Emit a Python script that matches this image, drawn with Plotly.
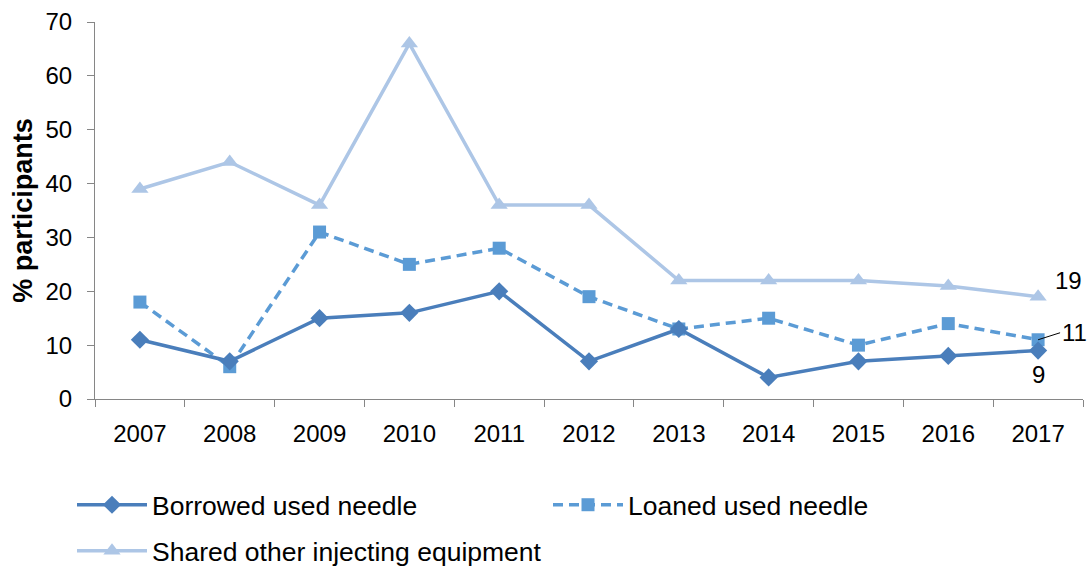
import plotly.graph_objects as go

years = ["2007", "2008", "2009", "2010", "2011", "2012", "2013", "2014", "2015", "2016", "2017"]
borrowed = [11, 7, 15, 16, 20, 7, 13, 4, 7, 8, 9]
loaned = [18, 6, 31, 25, 28, 19, 13, 15, 10, 14, 11]
shared = [39, 44, 36, 66, 36, 36, 22, 22, 22, 21, 19]

c_borrowed = "#4A7EBB"
c_loaned = "#5B9BD5"
c_shared = "#ADC6E6"
font_family = "Liberation Sans, Arial, sans-serif"

W, H = 1091, 568
ML, MR, MT, MB = 2, 8, 22, 2
pw, ph = W - ML - MR, H - MT - MB


def px_x(x):
    return (x - ML) / pw


def px_y(y):
    return (H - MB - y) / ph


fig = go.Figure()
fig.add_trace(go.Scatter(
    x=years, y=shared, name="Shared other injecting equipment", mode="lines+markers",
    line=dict(color=c_shared, width=3.5), marker=dict(symbol="triangle-up", size=15, color=c_shared),
    legend="legend2"))
fig.add_trace(go.Scatter(
    x=years, y=loaned, name="Loaned used needle", mode="lines+markers",
    line=dict(color=c_loaned, width=3.5, dash="10px,6px"), marker=dict(symbol="square", size=13, color=c_loaned),
    legend="legend"))
fig.add_trace(go.Scatter(
    x=years, y=borrowed, name="Borrowed used needle", mode="lines+markers",
    line=dict(color=c_borrowed, width=3.5), marker=dict(symbol="diamond", size=14, color=c_borrowed),
    legend="legend"))

last = len(years) - 1
fig.add_annotation(x=last, y=shared[-1], text=str(shared[-1]), showarrow=False,
                   xshift=30, yshift=16, font=dict(size=24, color="#000"))
fig.add_annotation(x=last, y=loaned[-1], text=str(loaned[-1]), showarrow=True,
                   arrowhead=0, arrowwidth=1, arrowcolor="#000", ax=22, ay=-7,
                   font=dict(size=24, color="#000"), xanchor="left")
fig.add_annotation(x=last, y=borrowed[-1], text=str(borrowed[-1]), showarrow=False,
                   yshift=-24, font=dict(size=24, color="#000"))

fig.update_layout(
    width=W, height=H,
    margin=dict(l=ML, r=MR, t=MT, b=MB, autoexpand=False),
    plot_bgcolor="white", paper_bgcolor="white",
    font=dict(family=font_family, size=24, color="#000"),
    showlegend=True,
    legend=dict(orientation="h", x=px_x(72), xanchor="left", y=px_y(505), yanchor="middle",
                traceorder="reversed", entrywidth=391, font=dict(size=26.5),
                itemwidth=70, bgcolor="rgba(0,0,0,0)"),
    legend2=dict(orientation="h", x=px_x(72), xanchor="left", y=px_y(551), yanchor="middle",
                 font=dict(size=26.5), itemwidth=70, bgcolor="rgba(0,0,0,0)"),
    xaxis=dict(type="category", range=[-0.5, 10.5], domain=[px_x(95), 1],
               showline=True, linecolor="#868686", linewidth=1,
               ticks="outside", tickson="boundaries", ticklen=7, tickcolor="#868686",
               showgrid=False, tickfont=dict(size=24), ticklabelstandoff=13),
    yaxis=dict(range=[0, 70], dtick=10, domain=[px_y(399), 1], automargin=False,
               showline=True, linecolor="#868686", linewidth=1,
               ticks="outside", ticklen=7, tickcolor="#868686", showgrid=False, zeroline=False,
               tickfont=dict(size=24), ticklabelstandoff=10,
               title=dict(text="<b>% participants</b>", font=dict(size=27), standoff=5)),
)

fig.write_html("out.html", config={"displayModeBar": False},
               post_script="document.body.style.margin='0';document.body.style.overflow='hidden';")
